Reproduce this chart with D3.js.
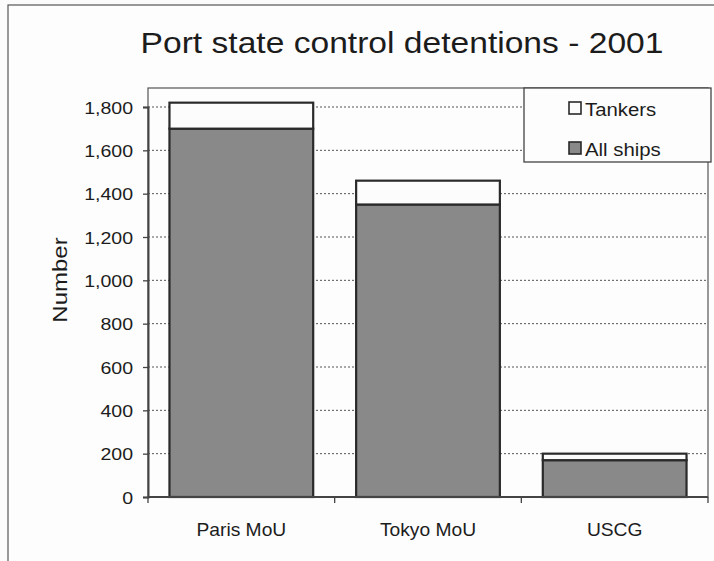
<!DOCTYPE html>
<html>
<head>
<meta charset="utf-8">
<script src="https://cdn.jsdelivr.net/npm/d3@7"></script>
<style>
  html, body { margin: 0; padding: 0; background: #fbfbfb; }
  svg { display: block; font-family: "Liberation Sans", Arial, sans-serif; }
</style>
</head>
<body>
<svg id="chart" width="714" height="561"></svg>
<script>
const categories = ["Paris MoU", "Tokyo MoU", "USCG"];
const allShips = [1700, 1350, 170];
const tankers = [120, 110, 30];
const seriesNames = ["Tankers", "All ships"];
const yTicks = [0, 200, 400, 600, 800, 1000, 1200, 1400, 1600, 1800];
const chartTitle = "Port state control detentions - 2001";
const yTitle = "Number";

const svg = d3.select("#chart");
const W = 714, H = 561;
const plot = { left: 148, right: 708, top: 88, bottom: 497 };
const fillGray = "#898989";
const lineDark = "#2a2a2a";
const textColor = "#1c1c1c";
const sx = 1.12; // horizontal stretch of the scanned text

// outer frame
svg.append("rect").attr("x", 8).attr("y", 5).attr("width", W).attr("height", H)
  .attr("fill", "#fdfdfd").attr("stroke", "#555").attr("stroke-width", 1.2);

const x = d3.scaleBand().domain(categories).range([plot.left, plot.right]).paddingInner(0.23).paddingOuter(0.115);
const xOuter = d3.scaleBand().domain(categories).range([plot.left, plot.right]);
const y = d3.scaleLinear().domain([0, 1800]).range([plot.bottom, 107]);

function stretchedText(g, tx, ty, str, size, anchor, scale) {
  return g.append("text")
    .attr("transform", `translate(${tx},${ty}) scale(${scale},1)`)
    .attr("text-anchor", anchor)
    .attr("font-size", size)
    .attr("fill", textColor)
    .text(str);
}

// plot area background
svg.append("rect").attr("x", plot.left).attr("y", plot.top)
  .attr("width", plot.right - plot.left).attr("height", plot.bottom - plot.top)
  .attr("fill", "#fdfdfd").attr("stroke", "#555").attr("stroke-width", 1.2);

// gridlines
svg.append("g").selectAll("line").data(yTicks.filter(d => d > 0)).join("line")
  .attr("x1", plot.left).attr("x2", plot.right)
  .attr("y1", d => y(d)).attr("y2", d => y(d))
  .attr("stroke", "#555").attr("stroke-width", 1).attr("stroke-dasharray", "2,2");

// stacked bars
const stackData = categories.map((c, i) => ({ cat: c, all: allShips[i], tank: tankers[i] }));
const bars = svg.append("g");
bars.selectAll("rect.all").data(stackData).join("rect")
  .attr("class", "all")
  .attr("x", d => x(d.cat)).attr("width", x.bandwidth())
  .attr("y", d => y(d.all)).attr("height", d => y(0) - y(d.all))
  .attr("fill", fillGray).attr("stroke", lineDark).attr("stroke-width", 2.2);
bars.selectAll("rect.tank").data(stackData).join("rect")
  .attr("class", "tank")
  .attr("x", d => x(d.cat)).attr("width", x.bandwidth())
  .attr("y", d => y(d.all + d.tank)).attr("height", d => y(d.all) - y(d.all + d.tank))
  .attr("fill", "#fcfcfc").attr("stroke", lineDark).attr("stroke-width", 2.2);

// y axis
const yAxis = d3.axisLeft(y).tickValues(yTicks).tickSize(5).tickFormat(d3.format(","));
const gy = svg.append("g").attr("transform", `translate(${plot.left},0)`).call(yAxis);
gy.select(".domain").attr("stroke", "#444").attr("stroke-width", 2);
gy.selectAll(".tick line").attr("stroke", "#444").attr("stroke-width", 1.3);
gy.selectAll(".tick text").remove();
gy.selectAll(".tick").each(function(d) {
  stretchedText(d3.select(this), -15, 6, d3.format(",")(d), 17, "end", 1.15);
});

// x axis
const gx = svg.append("g").attr("transform", `translate(0,${plot.bottom})`);
gx.append("line").attr("x1", plot.left).attr("x2", plot.right).attr("stroke", "#444").attr("stroke-width", 2);
const bounds = categories.map(c => xOuter(c)).concat([plot.right]);
gx.selectAll("line.tk").data(bounds).join("line").attr("class", "tk")
  .attr("x1", d => d).attr("x2", d => d).attr("y1", 0).attr("y2", 6)
  .attr("stroke", "#444").attr("stroke-width", 1.3);
categories.forEach(c => {
  stretchedText(svg, xOuter(c) + xOuter.bandwidth() / 2, 536, c, 17.5, "middle", 1.1);
});

// title
stretchedText(svg, 402, 53, chartTitle, 30, "middle", sx);

// y title
svg.append("text")
  .attr("transform", `translate(67,280) rotate(-90) scale(1.2,1.05)`)
  .attr("text-anchor", "middle").attr("font-size", 20).attr("fill", textColor)
  .text(yTitle);

// legend
const lg = svg.append("g");
lg.append("rect").attr("x", 524).attr("y", 88).attr("width", 187).attr("height", 74)
  .attr("fill", "#fdfdfd").attr("stroke", "#444").attr("stroke-width", 1.3);
const legFills = ["#fcfcfc", fillGray];
const legY = [108, 148];
seriesNames.forEach((s, i) => {
  lg.append("rect").attr("x", 569).attr("y", legY[i] - 6).attr("width", 12).attr("height", 12)
    .attr("fill", legFills[i]).attr("stroke", lineDark).attr("stroke-width", 1.6);
  stretchedText(lg, 585, legY[i] + 8, s, 18.5, "start", 1.1);
});
</script>
</body>
</html>
